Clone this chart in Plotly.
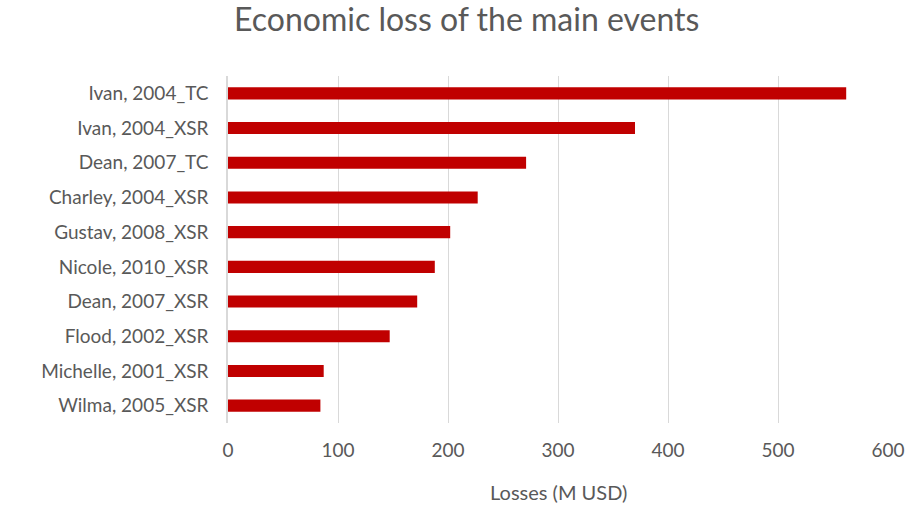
import plotly.graph_objects as go

# Main loss events and their economic losses (million USD)
events = [
    "Ivan, 2004_TC",
    "Ivan, 2004_XSR",
    "Dean, 2007_TC",
    "Charley, 2004_XSR",
    "Gustav, 2008_XSR",
    "Nicole, 2010_XSR",
    "Dean, 2007_XSR",
    "Flood, 2002_XSR",
    "Michelle, 2001_XSR",
    "Wilma, 2005_XSR",
]
losses = [562, 370, 271, 227, 202, 188, 172, 147, 87, 84]
x_ticks = [0, 100, 200, 300, 400, 500, 600]

font_family = "Lato, 'Open Sans', sans-serif"
text_color = "#595959"
grid_color = "#d9d9d9"

fig = go.Figure(
    go.Bar(
        x=losses,
        y=events,
        orientation="h",
        marker=dict(color="#C00000", line=dict(width=0)),
    )
)

fig.update_layout(
    width=917,
    height=505,
    margin=dict(l=228, r=29, t=76, b=82),
    paper_bgcolor="white",
    plot_bgcolor="white",
    bargap=0.65,
    showlegend=False,
    title=dict(
        text="Economic loss of the main events",
        x=0.509,
        xanchor="center",
        y=0.96,
        yanchor="middle",
        font=dict(family=font_family, size=32, color=text_color),
    ),
    font=dict(family=font_family, color=text_color),
    annotations=[
        dict(
            text="Losses (M USD)",
            xref="paper", yref="paper",
            x=0.5, y=-0.2,
            xanchor="center", yanchor="middle",
            showarrow=False,
            font=dict(family=font_family, size=20, color=text_color),
        )
    ],
)

fig.update_xaxes(
    range=[0, 600],
    tickvals=x_ticks,
    ticktext=[str(v) for v in x_ticks],
    showgrid=True,
    gridcolor=grid_color,
    gridwidth=1,
    zeroline=False,
    showline=False,
    ticks="",
    ticklabelstandoff=14,
    automargin=False,
    tickfont=dict(size=19, color=text_color),
)

fig.update_yaxes(
    autorange="reversed",
    showgrid=False,
    zeroline=False,
    showline=True,
    linecolor=grid_color,
    linewidth=1.5,
    ticks="",
    ticklabelstandoff=14,
    automargin=False,
    tickfont=dict(size=19, color=text_color),
)

fig.write_html("out.html")
